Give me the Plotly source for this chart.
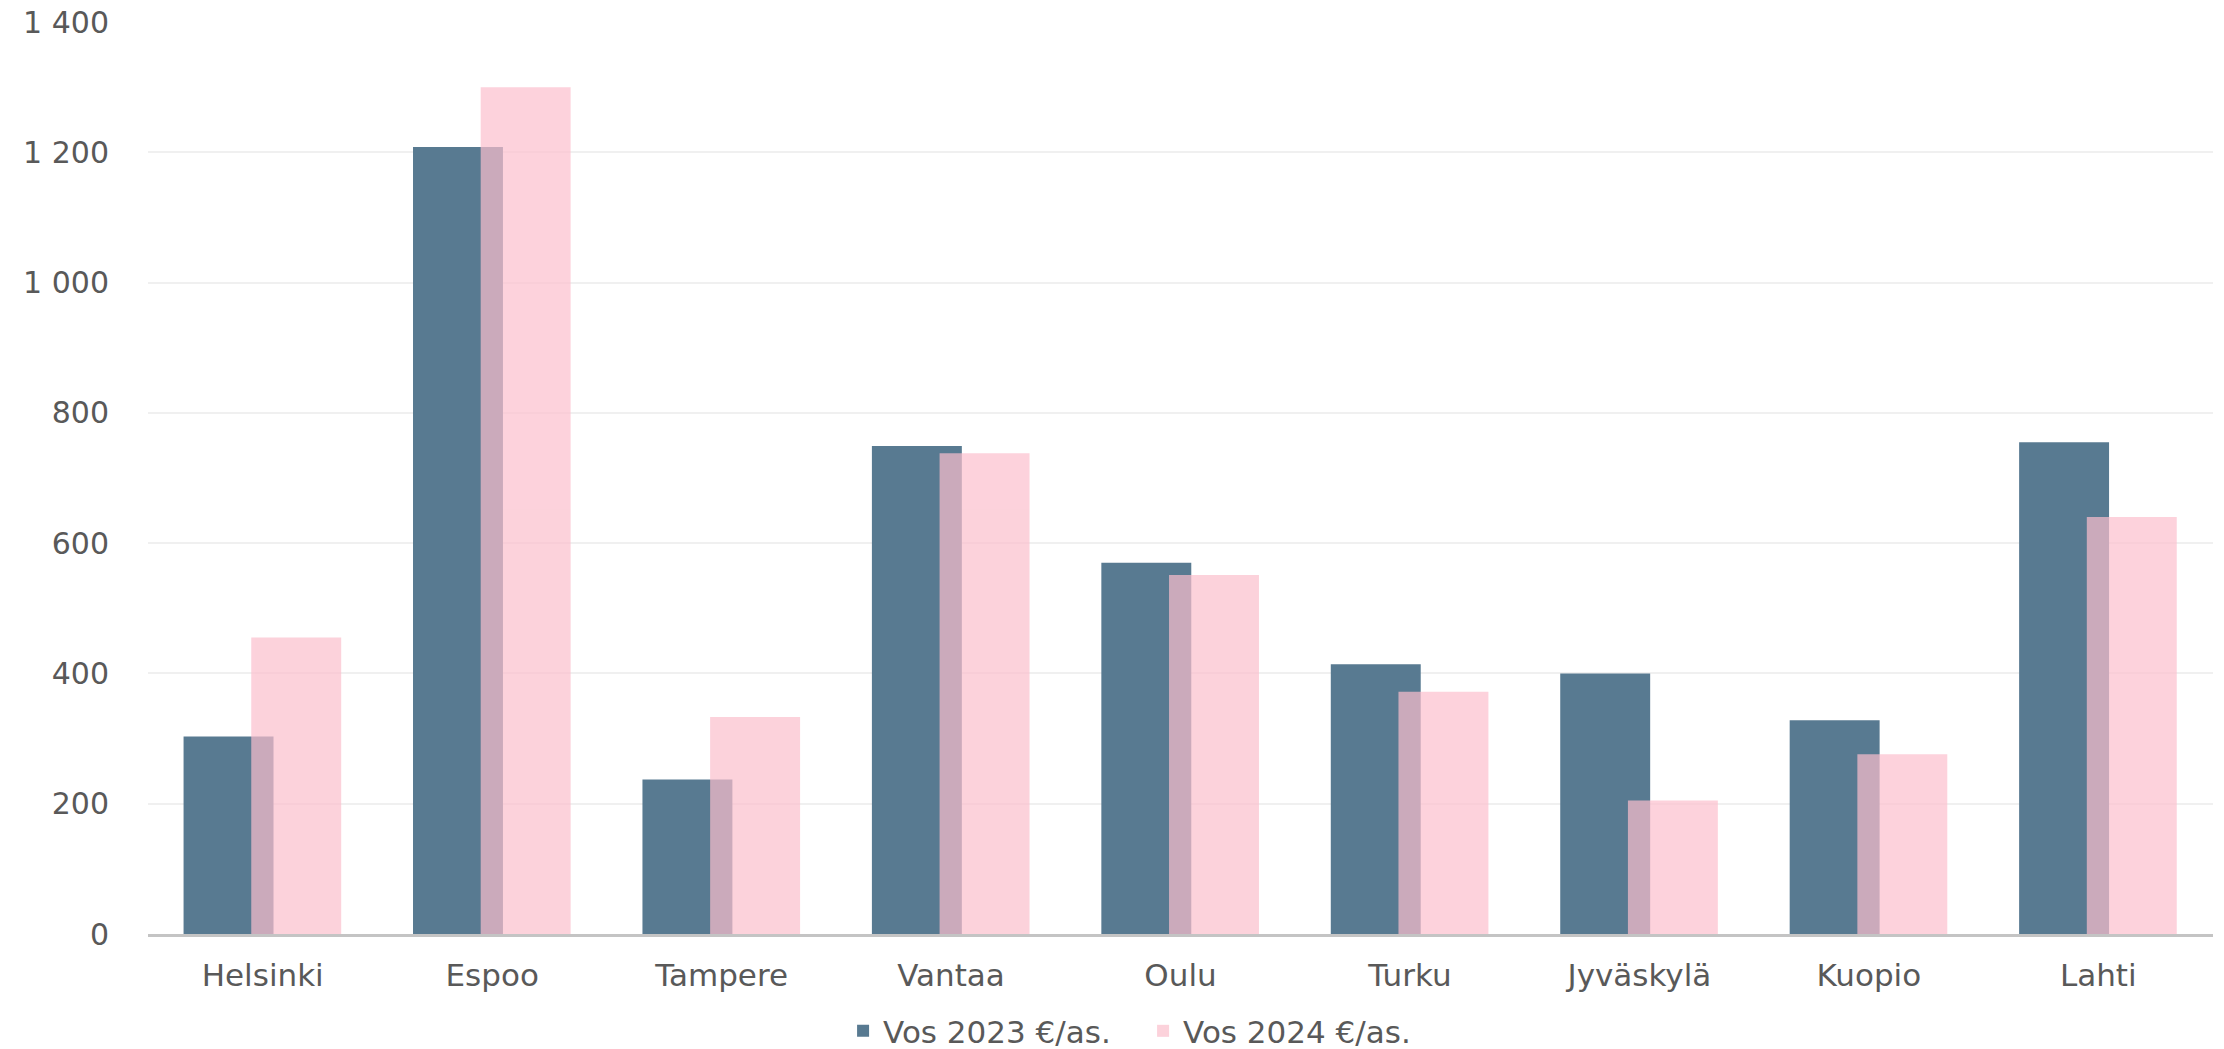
import plotly.graph_objects as go

cities = ["Helsinki", "Espoo", "Tampere", "Vantaa", "Oulu", "Turku", "Jyväskylä", "Kuopio", "Lahti"]
vos_2023 = [303, 1208, 237, 749, 570, 414, 400, 328, 755]
vos_2024 = [455, 1300, 333, 738, 551, 372, 205, 276, 640]
y_ticks = [0, 200, 400, 600, 800, 1000, 1200, 1400]

BLUE = "#587a91"
PINK = "#fcbfcd"
TEXT = "#595959"
FONT = "DejaVu Sans, sans-serif"

fig = go.Figure()
fig.add_trace(go.Bar(
    x=cities, y=vos_2023, name="Vos 2023 €/as.",
    marker=dict(color=BLUE, line_width=0),
    width=0.392, offset=-0.345,
))
fig.add_trace(go.Bar(
    x=cities, y=vos_2024, name="Vos 2024 €/as.",
    marker=dict(color=PINK, line_width=0), opacity=0.7,
    width=0.392, offset=-0.05,
))

fig.update_layout(
    width=2224, height=1049,
    barmode="overlay",
    separators=", ",
    plot_bgcolor="white", paper_bgcolor="white",
    margin=dict(l=148, r=11, t=22, b=115, autoexpand=False),
    font=dict(family=FONT, size=30, color=TEXT),
    legend=dict(
        orientation="h", x=0.3366, xanchor="left",
        yref="container", y=0.017, yanchor="middle",
        font=dict(family=FONT, size=31, color=TEXT),
        itemwidth=30, entrywidth=255, traceorder="normal",
    ),
    xaxis=dict(
        showgrid=False, showline=True, linecolor="#c4c4c4", linewidth=3,
        ticks="", ticklabelstandoff=12, automargin=False,
        tickfont=dict(size=31),
    ),
    yaxis=dict(
        range=[0, 1400], tickvals=y_ticks, tickformat=",d",
        showgrid=True, gridcolor="#f0f0f0", gridwidth=2,
        zeroline=False, ticks="", ticklabelstandoff=38, automargin=False,
    ),
)

# page body has a default 8px margin; drop it so the figure sits at the window origin
fig.write_html("out.html", config={"displayModeBar": False},
               post_script="document.body.style.margin='0';")
